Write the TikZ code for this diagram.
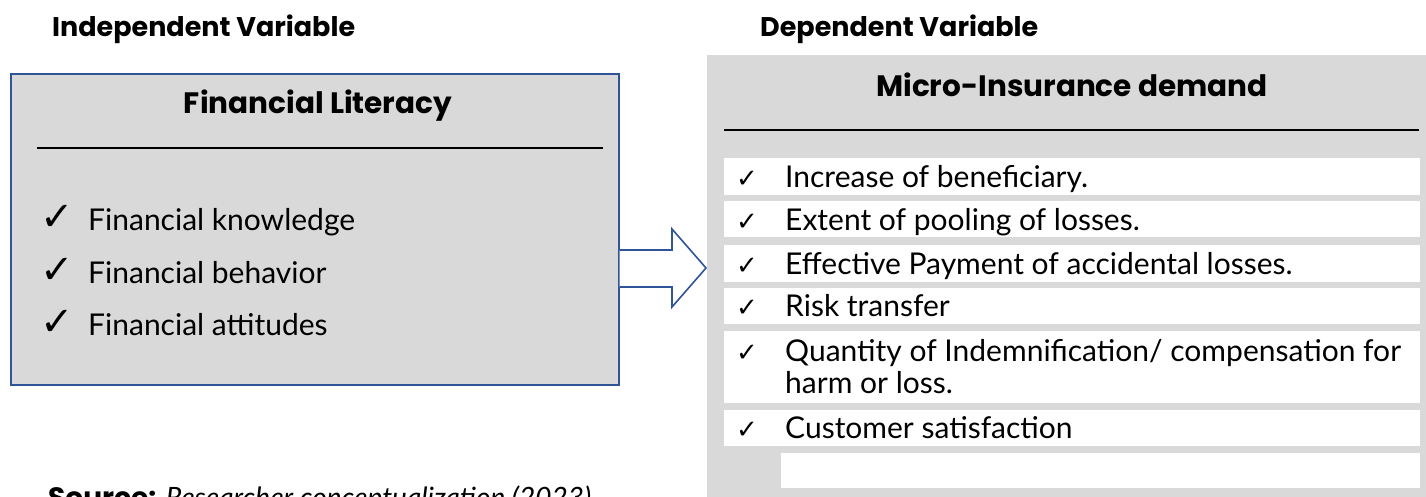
\documentclass[tikz,border=0pt]{standalone}
\usepackage{fontspec}
\setmainfont{Lato}
\newfontfamily\headfont{Poppins}
\newfontfamily\symfont{DejaVu Sans}
\definecolor{panel}{HTML}{D9D9D9}
\definecolor{edge}{HTML}{2F5597}
\tikzset{
  heading/.style={font=\headfont\bfseries\fontsize{29.5}{34}\selectfont, inner sep=0pt, anchor=base},
  caption/.style={font=\headfont\bfseries\fontsize{27}{32}\selectfont, inner sep=0pt, anchor=base west},
  itemtext/.style={font=\fontsize{30}{36}\selectfont, inner sep=0pt, anchor=base west},
  lefttick/.style={font=\symfont\fontsize{40}{44}\selectfont, inner sep=0pt, anchor=base west},
  righttick/.style={font=\symfont\fontsize{26}{30}\selectfont, inner sep=0pt, anchor=base west},
  rowbox/.style={fill=white, draw=none},
  rule/.style={draw=black, line width=1.6pt},
}
\begin{document}
\begin{tikzpicture}[x=1pt,y=-1pt]
\useasboundingbox (0,0) rectangle (1426,497);
\clip (0,0) rectangle (1426,497);

% column captions
\node[caption] (indep) at (52,37) {Independent Variable};
\node[caption] (dep) at (760,37) {Dependent Variable};

% independent variable box
\node[draw=edge, line width=1.6pt, fill=panel, anchor=north west,
      minimum width=608pt, minimum height=311pt, inner sep=0pt] (lbox) at (10,73) {};
\node[heading] (ltitle) at (318,114) {Financial Literacy};
\draw[rule] (37,148) -- (603,148);
\node[lefttick] (lt1) at (40,230) {✓};
\node[itemtext] (li1) at (88,230) {Financial knowledge};
\node[lefttick] (lt2) at (40,283) {✓};
\node[itemtext] (li2) at (88,283) {Financial behavior};
\node[lefttick] (lt3) at (40,335) {✓};
\node[itemtext] (li3) at (88,335) {Financial attitudes};

% dependent variable panel
\node[fill=panel, draw=none, anchor=north west,
      minimum width=719pt, minimum height=442pt, inner sep=0pt] (rpanel) at (707,55) {};
\node[heading] (rtitle) at (1072,97) {Micro-Insurance demand};
\draw[rule] (724,130) -- (1419,130);

\fill[rowbox] (724,158) rectangle (1420,195);
\fill[rowbox] (724,201) rectangle (1420,237);
\fill[rowbox] (724,245) rectangle (1420,282);
\fill[rowbox] (724,288) rectangle (1420,324);
\fill[rowbox] (724,331) rectangle (1420,403);
\fill[rowbox] (724,410) rectangle (1420,446);
\fill[rowbox] (781,453) rectangle (1420,488);

\node[righttick] (rt1) at (736,188) {✓};
\node[itemtext] (ri1) at (785,188) {Increase of beneficiary.};
\node[righttick] (rt2) at (736,230) {✓};
\node[itemtext] (ri2) at (785,230) {Extent of pooling of losses.};
\node[righttick] (rt3) at (736,274) {✓};
\node[itemtext] (ri3) at (785,274) {Effective Payment of accidental losses.};
\node[righttick] (rt4) at (736,316) {✓};
\node[itemtext] (ri4) at (785,316) {Risk transfer};
\node[righttick] (rt5) at (736,361) {✓};
\node[itemtext] (ri5) at (785,361) {Quantity of Indemnification/ compensation for};
\node[itemtext] (ri5b) at (785,393) {harm or loss.};
\node[righttick] (rt6) at (736,438) {✓};
\node[itemtext] (ri6) at (785,438) {Customer satisfaction};

% block arrow from the independent to the dependent variable
\draw[draw=edge, line width=1.6pt, fill=white, line join=miter]
  (lbox.east |- 0,250) -- (672,250) -- (672,229) -- (706,268)
  -- (672,307) -- (672,287) -- (lbox.east |- 0,287);

% source note
\node[inner sep=0pt, anchor=base west, font=\fontsize{28}{32}\selectfont] (src) at (48,507)
  {{\headfont\bfseries Source:} \textit{Researcher conceptualization (2023)}};
\end{tikzpicture}
\end{document}
